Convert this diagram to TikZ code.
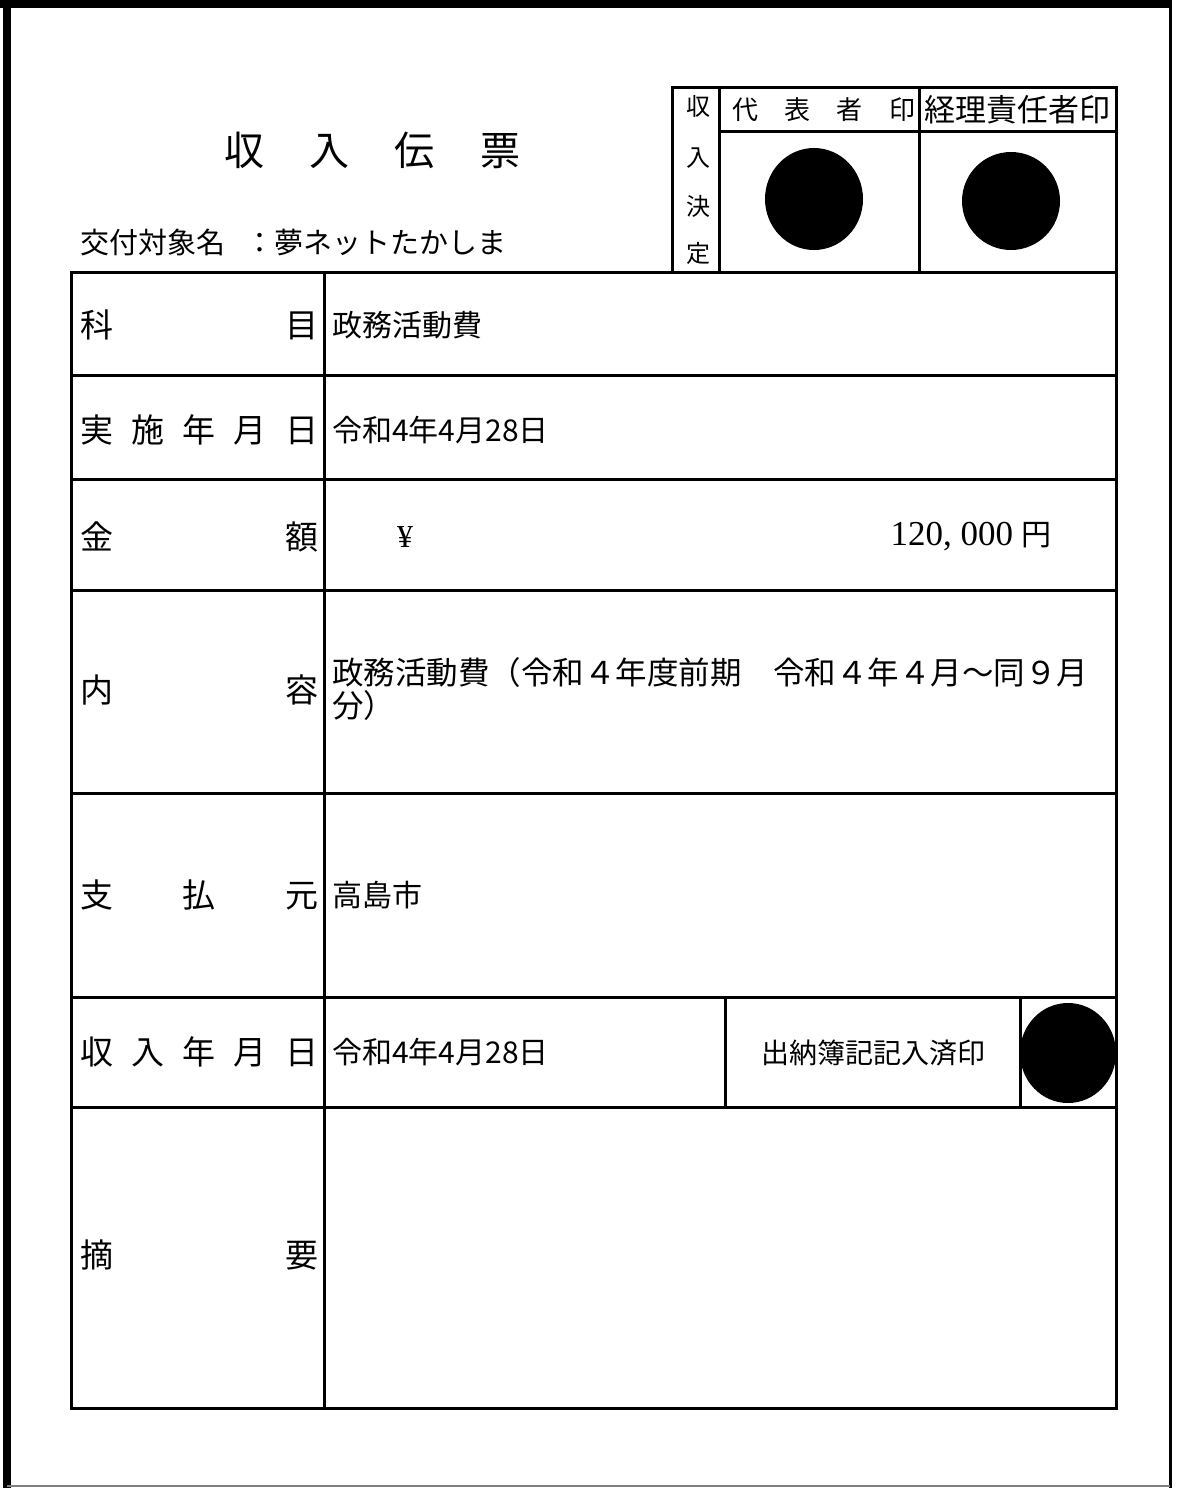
\documentclass[tikz,border=0pt]{standalone}
\usepackage{fontspec}
\setmainfont{Liberation Serif}
\newfontfamily\jp{Noto Sans CJK JP}
\newcommand{\fsz}[1]{\fontsize{#1}{#1}\selectfont}
\begin{document}
\begin{tikzpicture}[x=1pt, y=-1pt,
        rule/.style={line width=3pt},
        lbl/.style={anchor=west, inner sep=0pt, font=\jp\fsz{33}},
        val/.style={anchor=west, inner sep=0pt, font=\jp\fsz{30}},
        stamp/.style={fill=black}]
        \useasboundingbox (0,0) rectangle (1176,1488);

        % Page frame
        \draw[line width=8pt] (7,0) -- (7,1488);
        \draw[line width=8pt] (0,4) -- (1172,4);
        \draw[line width=3pt] (1170,0) -- (1170,1488);
        \draw[line width=2pt, gray] (7,1486) -- (1170,1486);

        % Title and target
        \node[lbl, font=\jp\fsz{40}] (title) at (224,150) {\hbox to 296pt{収\hfill 入\hfill 伝\hfill 票}};
        \node[lbl, font=\jp\fsz{29}] (target) at (80,242) {交付対象名\hspace{20pt}：夢ネットたかしま};

        % Approval box
        \draw[rule] (672,87) rectangle (1116,272);
        \draw[rule] (719,87) -- (719,272);
        \draw[rule] (919,87) -- (919,272);
        \draw[rule] (719,131) -- (1116,131);
        \foreach \ch/\yy [count=\i] in {収/106, 入/158, 決/206, 定/253}
            \node[inner sep=0pt, font=\jp\fsz{24}] (kettei\i) at (698,\yy) {\ch};
        \node[val, font=\jp\fsz{26}] (rep) at (732,110) {\hbox to 183pt{代\hfill 表\hfill 者\hfill 印}};
        \node[val, font=\jp\fsz{31}] (acct) at (924,110) {経理責任者印};
        \fill[stamp] (814,199) ellipse [x radius=49, y radius=51];  % representative seal
        \fill[stamp] (1011,201) ellipse [x radius=49, y radius=49]; % accountant seal

        % Main table
        \draw[rule] (71,272) rectangle (1116,1408);
        \draw[rule] (324,272) -- (324,1408);
        \foreach \yy in {375,479,590,793,997,1107}
            \draw[rule] (71,\yy) -- (1116,\yy);
        \draw[rule] (725,997) -- (725,1107);
        \draw[rule] (1020,997) -- (1020,1107);

        % Row labels
        \node[lbl] (kamoku) at (80,325) {\hbox to 238pt{科\hfill 目}};
        \node[lbl] (jisshi) at (80,430) {\hbox to 238pt{実\hfill 施\hfill 年\hfill 月\hfill 日}};
        \node[lbl] (kingaku) at (80,537) {\hbox to 238pt{金\hfill 額}};
        \node[lbl] (naiyo) at (80,690) {\hbox to 238pt{内\hfill 容}};
        \node[lbl] (shiharai) at (80,895) {\hbox to 238pt{支\hfill 払\hfill 元}};
        \node[lbl] (shunyu) at (80,1052) {\hbox to 238pt{収\hfill 入\hfill 年\hfill 月\hfill 日}};
        \node[lbl] (tekiyo) at (80,1255) {\hbox to 238pt{摘\hfill 要}};

        % Values
        \node[val] (kamokuv) at (332,325) {政務活動費};
        \node[val] (jisshiv) at (332,430) {令和4年4月28日};
        \node[val, anchor=center, font=\fsz{32}] (yen) at (405,537) {¥};
        \node[val, anchor=east, font=\fsz{35}] (amount) at (1052,537) {120, 000 {\jp\fsz{30}円}};
        \node[val, anchor=north west, align=left, font=\jp\fontsize{31.5}{33}\selectfont] (naiyov) at (332,657)
            {政務活動費（令和４年度前期　令和４年４月～同９月\\分）};
        \node[val] (shiharaiv) at (332,895) {高島市};
        \node[val] (shunyuv) at (332,1052) {令和4年4月28日};
        \node[inner sep=0pt, font=\jp\fsz{28}] (suitou) at (873,1053) {出納簿記記入済印};
        \fill[stamp] (1068,1053) ellipse [x radius=48, y radius=50]; % ledger seal
    \end{tikzpicture}
\end{document}
